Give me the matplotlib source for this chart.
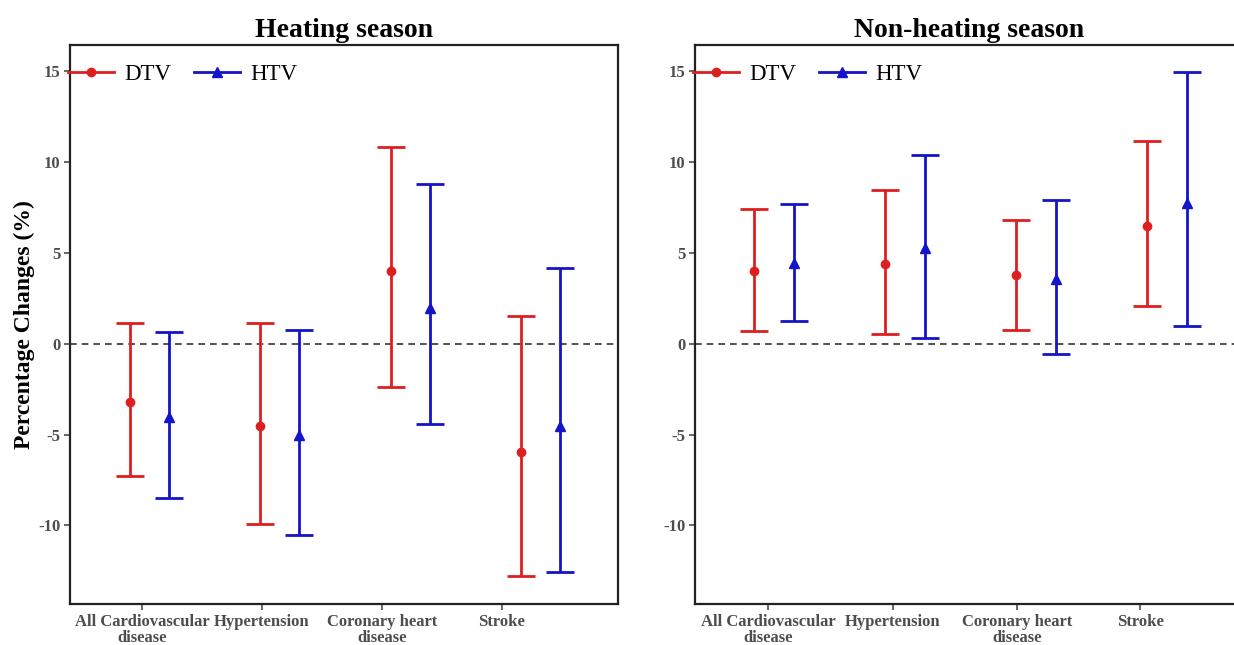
import numpy as np
import matplotlib
matplotlib.use('Agg')
import matplotlib.pyplot as plt
from matplotlib.lines import Line2D

plt.rcParams['font.family'] = ['Liberation Serif', 'DejaVu Serif']
plt.rcParams['axes.unicode_minus'] = False

# categories / tick labels
categories = ['All Cardiovascular\ndisease', 'Hypertension', 'Coronary heart\ndisease', 'Stroke']
series = ['DTV', 'HTV']

# heating season: estimate, lower, upper (%)
heat_dtv = [-3.21, -4.55, 3.98, -5.97]
heat_dtv_lo = [-7.27, -9.90, -2.37, -12.78]
heat_dtv_hi = [1.14, 1.14, 10.82, 1.54]
heat_htv = [-4.02, -5.01, 1.97, -4.55]
heat_htv_lo = [-8.50, -10.52, -4.44, -12.58]
heat_htv_hi = [0.66, 0.77, 8.80, 4.15]

# non-heating season
non_dtv = [3.98, 4.37, 3.78, 6.46]
non_dtv_lo = [0.72, 0.53, 0.77, 2.09]
non_dtv_hi = [7.44, 8.45, 6.83, 11.15]
non_htv = [4.44, 5.25, 3.56, 7.75]
non_htv_lo = [1.27, 0.31, -0.55, 0.99]
non_htv_hi = [7.71, 10.41, 7.90, 14.97]

red = '#DE1F1F'
blue = '#1414C8'
yticks = [-10, -5, 0, 5, 10, 15]

fig = plt.figure(figsize=(12.34, 6.45), dpi=100)
ax1 = fig.add_axes([0.0567, 0.0636, 0.4441, 0.8667])
ax2 = fig.add_axes([0.5632, 0.0636, 0.4441, 0.8667])


def panel(ax, title, est, lo, hi, tickpos, xlim):
    x = np.arange(len(categories))
    dodge = 0.15
    styles = [(red, 'o', 6), (blue, '^', 7)]
    for k in range(2):
        e = np.array(est[k])
        err = [e - np.array(lo[k]), np.array(hi[k]) - e]
        col, mk, ms = styles[k]
        xs = x + (k * 2 - 1) * dodge
        ax.errorbar(xs, e, yerr=err, fmt='none', ecolor=col, elinewidth=2.0,
                    capsize=10, capthick=2.0, zorder=3)
        ax.plot(xs, e, linestyle='none', marker=mk, color=col, markersize=ms,
                zorder=4)
    ax.axhline(0, color='#333333', linestyle=(0, (4, 3)), linewidth=1.2, zorder=1)
    ax.set_xlim(xlim)
    ax.set_ylim(-14.33, 16.45)
    ax.set_yticks(yticks)
    ax.set_xticks(tickpos)
    ax.set_xticklabels(categories, linespacing=1.0)
    ax.tick_params(axis='both', colors='#4D4D4D', length=4, width=1.2,
                   labelsize=12, pad=3)
    for lab in ax.get_xticklabels() + ax.get_yticklabels():
        lab.set_fontweight('bold')
    for s in ax.spines.values():
        s.set_linewidth(1.6)
        s.set_color('#222222')
    ax.set_title(title, fontsize=20, fontweight='bold', pad=6)
    hs = [Line2D([], [], color=red, marker='o', markersize=6, linewidth=2),
          Line2D([], [], color=blue, marker='^', markersize=7, linewidth=2)]
    ax.legend(hs, series, loc='center left', bbox_to_anchor=(-0.003, 0.948),
              ncol=2, frameon=False, fontsize=16.5, handlelength=2.0,
              handletextpad=0.45, columnspacing=1.0, borderpad=0,
              borderaxespad=0)


panel(ax1, 'Heating season', [heat_dtv, heat_htv], [heat_dtv_lo, heat_htv_lo],
      [heat_dtv_hi, heat_htv_hi], [-0.058, 0.863, 1.784, 2.705], (-0.61, 3.595))
panel(ax2, 'Non-heating season', [non_dtv, non_htv], [non_dtv_lo, non_htv_lo],
      [non_dtv_hi, non_htv_hi], [-0.046, 0.908, 1.855, 2.794], (-0.603, 3.58))

ax1.set_ylabel('Percentage Changes (%)', fontsize=17, fontweight='bold', labelpad=2)

fig.savefig('out.png', dpi=100)
